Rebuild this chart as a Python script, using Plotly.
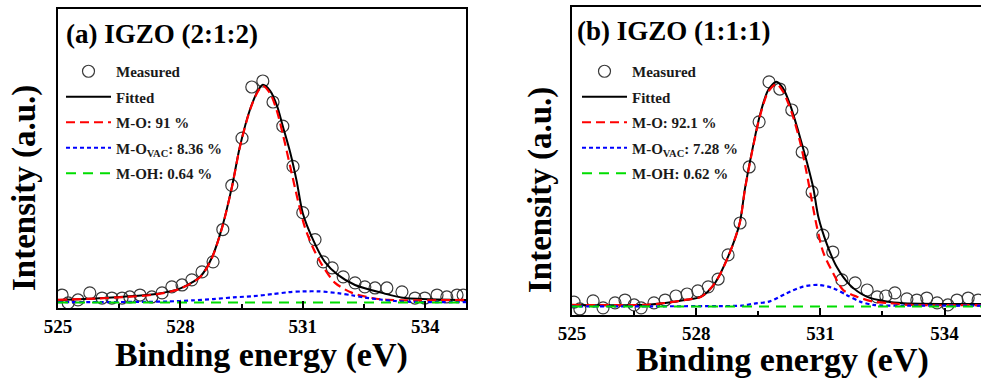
import plotly.graph_objects as go

# ---------------- Panel (a) IGZO (2:1:2) ----------------
a_meas_x = [525.10, 525.25, 525.49, 525.78, 526.08, 526.32, 526.57, 526.76, 527.01, 527.30,
            527.55, 527.79, 528.04, 528.28, 528.53, 528.80, 529.04, 529.26, 529.51, 529.75,
            530.02, 530.27, 530.51, 530.76, 531.00, 531.30, 531.50, 531.72, 531.99, 532.28,
            532.52, 532.77, 533.06, 533.43, 533.75, 533.99, 534.29, 534.53, 534.78, 534.93]
a_meas_y = [2.3, -1.4, 0.0, 3.3, 0.9, 0.9, 0.9, 1.4, 2.3, 1.4,
            3.3, 6.1, 7.0, 9.4, 13.1, 17.8, 32.9, 53.5, 75.6, 99.5,
            102.3, 92.5, 81.2, 62.4, 40.8, 28.2, 17.8, 15.0, 10.8, 8.0,
            6.1, 5.6, 5.6, 3.8, 0.9, 0.9, 2.3, 1.4, 2.3, 2.3]

a_fit_x = [525.0, 526.0, 526.6, 527.4, 528.0, 528.5, 528.77, 529.02, 529.26, 529.46,
           529.71, 529.90, 530.02, 530.20, 530.37, 530.51, 530.69, 530.85, 531.0, 531.25,
           531.54, 531.86, 532.28, 532.94, 533.5, 533.92, 535.0]
a_fit_y = [0.0, 0.8, 1.5, 2.8, 5.4, 11.2, 19.7, 33.8, 52.6, 71.8,
           89.2, 97.7, 100.5, 97.7, 90.6, 81.2, 69.0, 55.5, 40.5, 28.2,
           17.8, 11.7, 7.0, 3.3, 0.9, 0.5, 0.0]

a_mo_x = [525.0, 526.0, 526.6, 527.4, 528.0, 528.5, 528.77, 529.02, 529.26, 529.46,
          529.71, 529.90, 530.02, 530.20, 530.37, 530.51, 530.69, 530.88, 531.05, 531.25,
          531.47, 531.79, 532.21, 532.70, 533.10, 535.0]
a_mo_y = [0.0, 0.7, 1.3, 2.6, 5.3, 11.0, 19.5, 33.6, 52.4, 71.6,
          89.0, 97.4, 100.0, 96.5, 88.0, 77.5, 62.5, 46.5, 34.0, 24.4,
          16.4, 8.0, 3.3, 0.9, 0.0, 0.0]

a_vac_x = [525.0, 526.0, 527.0, 527.7, 528.3, 528.8, 529.3, 529.8, 530.25, 530.64,
           531.0, 531.4, 531.86, 532.2, 532.52, 532.9, 533.26, 533.7, 534.3, 535.0]
a_vac_y = [-1.0, -1.0, -0.9, -0.7, -0.2, 0.4, 1.2, 1.8, 2.7, 3.6,
           4.0, 4.0, 3.2, 2.2, 1.1, 0.2, -0.5, -0.9, -1.0, -1.0]

a_oh_x = [525.0, 530.0, 535.0]
a_oh_y = [-1.2, -1.2, -1.2]

# ---------------- Panel (b) IGZO (1:1:1) ----------------
b_meas_x = [525.05, 525.19, 525.51, 525.75, 526.04, 526.28, 526.50, 526.67, 526.98, 527.25,
            527.51, 527.78, 528.04, 528.29, 528.53, 528.77, 529.06, 529.28, 529.52, 529.76,
            530.02, 530.31, 530.56, 530.80, 531.06, 531.30, 531.52, 531.84, 532.13, 532.37,
            532.58, 532.80, 533.09, 533.33, 533.57, 533.82, 534.08, 534.30, 534.57, 534.81]
b_meas_y = [1.3, -1.8, 1.8, -1.3, 0.9, 2.2, 0.0, -1.3, 0.9, 2.2,
            4.0, 4.9, 6.3, 8.1, 11.6, 22.4, 36.7, 61.8, 82.0, 99.9,
            96.7, 87.3, 68.5, 50.6, 31.3, 23.7, 11.2, 9.9, 6.7, 3.6,
            4.0, 5.4, 2.7, 2.2, 3.1, 0.9, 0.0, 2.2, 3.1, 2.2]

b_fit_x = [525.0, 526.9, 527.72, 528.12, 528.45, 528.77, 529.05, 529.18, 529.38, 529.54,
           529.74, 529.94, 530.10, 530.27, 530.47, 530.67, 530.83, 530.95, 531.15, 531.39,
           531.71, 532.12, 532.60, 533.0, 535.0]
b_fit_y = [0.0, 0.2, 2.2, 3.7, 9.7, 21.6, 36.6, 52.3, 71.7, 85.1,
           96.3, 100.0, 97.0, 89.6, 77.6, 64.2, 52.3, 39.5, 27.6, 17.2,
           9.0, 3.7, 1.5, 0.8, 0.4]

b_mo_x = [525.0, 526.9, 527.72, 528.12, 528.45, 528.77, 529.05, 529.18, 529.38, 529.54,
          529.74, 529.94, 530.10, 530.31, 530.51, 530.67, 530.80, 530.91, 531.07, 531.31,
          531.55, 531.88, 532.28, 532.68, 533.2, 535.0]
b_mo_y = [0.0, 0.2, 2.2, 3.7, 9.7, 21.5, 36.5, 52.0, 71.3, 84.5,
          95.5, 99.0, 95.5, 86.0, 73.0, 59.0, 46.0, 35.5, 23.5, 14.2,
          6.7, 3.7, 1.5, 0.8, 0.0, 0.0]

b_vac_x = [525.0, 527.0, 528.5, 529.1, 529.41, 529.78, 530.18, 530.58, 530.95, 531.31,
           531.63, 531.96, 532.28, 533.0, 535.0]
b_vac_y = [-0.6, -0.6, -0.5, -0.3, 0.6, 1.6, 5.2, 8.2, 9.0, 7.5,
           4.5, 1.5, 0.0, -0.3, -0.3]

b_oh_x = [525.0, 530.0, 535.0]
b_oh_y = [-0.7, -0.7, -0.7]

x_ticks = [525, 528, 531, 534]
panel_titles = ["(a) IGZO (2:1:2)", "(b) IGZO (1:1:1)"]
legend_names_a = ["Measured", "Fitted", "M-O: 91 %", "M-O<sub>VAC</sub>: 8.36 %", "M-OH: 0.64 %"]
legend_names_b = ["Measured", "Fitted", "M-O: 92.1 %", "M-O<sub>VAC</sub>: 7.28 %", "M-OH: 0.62 %"]

W, H = 981, 380
SERIF = "Liberation Serif, Times New Roman, serif"

fig = go.Figure()


def add_panel(xa, ya, leg, names, mx, my, fx, fy, ox, oy, vx, vy, hx, hy, tag):
    fig.add_trace(go.Scatter(x=mx, y=my, mode="markers", name=names[0], xaxis=xa, yaxis=ya,
                             legend=leg, legendgroup=tag + "m",
                             marker=dict(symbol="circle-open", size=12, color="#3a3a3a",
                                         line=dict(width=1.2, color="#3a3a3a"))))
    fig.add_trace(go.Scatter(x=fx, y=fy, mode="lines", name=names[1], xaxis=xa, yaxis=ya,
                             legend=leg, legendgroup=tag + "f",
                             line=dict(color="black", width=2, shape="spline", smoothing=0.8)))
    fig.add_trace(go.Scatter(x=ox, y=oy, mode="lines", name=names[2], xaxis=xa, yaxis=ya,
                             legend=leg, legendgroup=tag + "o",
                             line=dict(color="#ff0000", width=2.2, dash="9px,5px",
                                       shape="spline", smoothing=0.8)))
    fig.add_trace(go.Scatter(x=vx, y=vy, mode="lines", name=names[3], xaxis=xa, yaxis=ya,
                             legend=leg, legendgroup=tag + "v",
                             line=dict(color="#0000ff", width=2.2, dash="4px,3px",
                                       shape="spline", smoothing=0.8)))
    fig.add_trace(go.Scatter(x=hx, y=hy, mode="lines", name=names[4], xaxis=xa, yaxis=ya,
                             legend=leg, legendgroup=tag + "h",
                             line=dict(color="#00dd00", width=2.2, dash="10px,7px")))


add_panel("x", "y", "legend", legend_names_a, a_meas_x, a_meas_y, a_fit_x, a_fit_y,
          a_mo_x, a_mo_y, a_vac_x, a_vac_y, a_oh_x, a_oh_y, "a")
add_panel("x2", "y2", "legend2", legend_names_b, b_meas_x, b_meas_y, b_fit_x, b_fit_y,
          b_mo_x, b_mo_y, b_vac_x, b_vac_y, b_oh_x, b_oh_y, "b")

xcommon = dict(tickmode="array", tickvals=x_ticks, ticktext=[str(t) for t in x_ticks],
               ticks="inside", ticklen=7, tickwidth=1.5, tickcolor="black", automargin=False,
               showline=True, linecolor="black", linewidth=2, showgrid=False, zeroline=False,
               tickfont=dict(family=SERIF, size=19, color="black", weight="bold"),
               minor=dict(tickvals=[526.5, 529.5, 532.5], ticks="inside", ticklen=4,
                          tickwidth=1.5, tickcolor="black"))
ycommon = dict(showticklabels=False, ticks="", showline=True, linecolor="black", linewidth=2,
               showgrid=False, zeroline=False, automargin=False)

leg_common = dict(font=dict(family=SERIF, size=15, color="#1a1a1a", weight="bold"),
                  bgcolor="rgba(0,0,0,0)", borderwidth=0, xanchor="left", yanchor="top",
                  tracegroupgap=3, traceorder="grouped", itemwidth=45)

fig.update_layout(
    template="none",
    width=W, height=H, margin=dict(l=0, r=0, t=0, b=0, pad=0, autoexpand=False),
    paper_bgcolor="white", plot_bgcolor="white",
    xaxis=dict(domain=[58 / W, 466 / W], range=[525, 535], mirror=True, anchor="y", **xcommon),
    yaxis=dict(domain=[1 - 308.3 / H, 1 - 9.3 / H], range=[-3.9, 135.8], mirror=True,
               anchor="x", **ycommon),
    xaxis2=dict(domain=[572 / W, 1.0], range=[525, 534.88], mirror=True, anchor="y2", **xcommon),
    yaxis2=dict(domain=[1 - 315 / H, 1 - 7.3 / H], range=[-4.5, 133.3], mirror=False,
                anchor="x2", **ycommon),
    legend=dict(x=61 / W, y=1 - 55 / H, **leg_common),
    legend2=dict(x=577 / W, y=1 - 55 / H, **leg_common),
    showlegend=True,
)

title_font = dict(family=SERIF, size=27, color="black", weight="bold")
axis_font = dict(family=SERIF, size=33, color="black", weight="bold")
annos = [
    dict(text=panel_titles[0], x=64 / W, y=1 - 34 / H, xanchor="left", yanchor="middle",
         align="left", font=title_font),
    dict(text=panel_titles[1], x=575 / W, y=1 - 31 / H, xanchor="left", yanchor="middle",
         align="left", font=title_font),
    dict(text="Intensity (a.u.)", x=24 / W, y=1 - 188 / H, textangle=-90, xanchor="center",
         yanchor="middle", font=axis_font),
    dict(text="Intensity (a.u.)", x=540 / W, y=1 - 190 / H, textangle=-90, xanchor="center",
         yanchor="middle", font=axis_font),
    dict(text="Binding energy (eV)", x=261.5 / W, y=1 - 355 / H, xanchor="center",
         yanchor="middle", font=dict(family=SERIF, size=34, color="black", weight="bold")),
    dict(text="Binding energy (eV)", x=782 / W, y=1 - 360 / H, xanchor="center",
         yanchor="middle", font=dict(family=SERIF, size=34, color="black", weight="bold")),
]
for a in annos:
    a.update(xref="paper", yref="paper", showarrow=False)
fig.update_layout(annotations=annos)

fig.write_html("out.html")
